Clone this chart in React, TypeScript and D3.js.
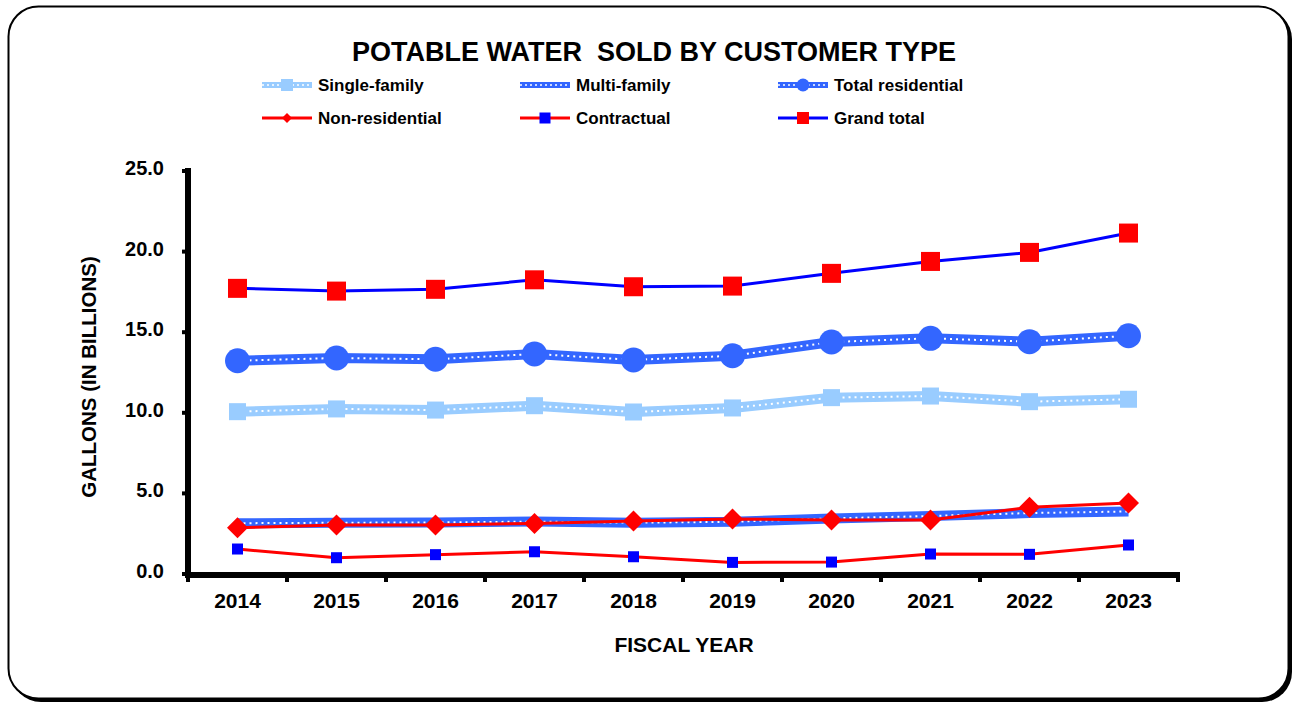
import React, { useEffect, useRef } from "react";
import * as d3 from "d3";

const years = ["2014", "2015", "2016", "2017", "2018", "2019", "2020", "2021", "2022", "2023"];
const singleFamily = [10.07, 10.24, 10.17, 10.44, 10.05, 10.3, 10.94, 11.04, 10.69, 10.84];
const multiFamily = [3.15, 3.18, 3.2, 3.25, 3.18, 3.24, 3.45, 3.6, 3.78, 3.88];
const totalResidential = [13.23, 13.4, 13.32, 13.65, 13.28, 13.54, 14.39, 14.62, 14.41, 14.78];
const nonResidential = [2.87, 3.04, 3.04, 3.14, 3.29, 3.41, 3.35, 3.35, 4.14, 4.4];
const contractual = [1.55, 1.01, 1.2, 1.38, 1.07, 0.72, 0.74, 1.24, 1.22, 1.8];
const grandTotal = [17.72, 17.55, 17.66, 18.25, 17.82, 17.86, 18.65, 19.39, 19.95, 21.15];
const yTicks = [0, 5, 10, 15, 20, 25];

const FONT = "'Liberation Sans', Arial, sans-serif";

type Series = {
  name: string;
  values: number[];
  line: string;
  width: number;
  dotted: boolean;
  marker: "none" | "square" | "circle" | "diamond";
  markerColor: string;
  size: number;
  legendSize: number;
};

const series: Series[] = [
  { name: "Single-family", values: singleFamily, line: "#99CCFF", width: 10, dotted: true, marker: "square", markerColor: "#99CCFF", size: 17, legendSize: 12 },
  { name: "Multi-family", values: multiFamily, line: "#3366FF", width: 10, dotted: true, marker: "none", markerColor: "#3366FF", size: 0, legendSize: 0 },
  { name: "Total residential", values: totalResidential, line: "#3366FF", width: 10, dotted: true, marker: "circle", markerColor: "#3366FF", size: 25, legendSize: 13 },
  { name: "Non-residential", values: nonResidential, line: "#FF0000", width: 3, dotted: false, marker: "diamond", markerColor: "#FF0000", size: 21, legendSize: 10 },
  { name: "Contractual", values: contractual, line: "#FF0000", width: 3, dotted: false, marker: "square", markerColor: "#0000FF", size: 11, legendSize: 11 },
  { name: "Grand total", values: grandTotal, line: "#0000FF", width: 3, dotted: false, marker: "square", markerColor: "#FF0000", size: 19, legendSize: 12 },
];

function drawMarker(g: any, s: Series, x: number, y: number, size: number) {
  if (s.marker === "square") {
    g.append("rect")
      .attr("x", x - size / 2)
      .attr("y", y - size / 2)
      .attr("width", size)
      .attr("height", size)
      .attr("fill", s.markerColor);
  } else if (s.marker === "circle") {
    g.append("circle").attr("cx", x).attr("cy", y).attr("r", size / 2).attr("fill", s.markerColor);
  } else if (s.marker === "diamond") {
    const h = size / 2;
    g.append("path")
      .attr("d", `M${x},${y - h}L${x + h},${y}L${x},${y + h}L${x - h},${y}Z`)
      .attr("fill", s.markerColor);
  }
}

const App = () => {
  const svgRef = useRef<SVGSVGElement>(null);

  useEffect(() => {
    const width = 1296;
    const height = 704;
    const svg = d3.select(svgRef.current).attr("width", width).attr("height", height);
    svg.selectAll("*").remove();

    // frame with shadow
    svg.append("rect")
      .attr("x", 11).attr("y", 9).attr("width", 1281).attr("height", 693)
      .attr("rx", 30).attr("fill", "#000");
    svg.append("rect")
      .attr("x", 8.5).attr("y", 6.5).attr("width", 1280).attr("height", 692)
      .attr("rx", 30).attr("fill", "#fff").attr("stroke", "#000").attr("stroke-width", 2);

    const left = 188;
    const right = 1178;
    const x = d3.scaleBand().domain(years).range([left, right]);
    const y = d3.scaleLinear().domain([0, 25]).range([574, 171]);
    const cx = (i: number) => (x(years[i]) as number) + x.bandwidth() / 2;

    svg.append("text")
      .attr("x", 654).attr("y", 61)
      .attr("text-anchor", "middle")
      .attr("font-family", FONT).attr("font-weight", "bold").attr("font-size", 27)
      .attr("xml:space", "preserve")
      .text("POTABLE WATER  SOLD BY CUSTOMER TYPE");

    // legend
    const legendX = [262, 520, 778];
    const legendY = [85, 118];
    series.forEach((s, i) => {
      const lx = legendX[i % 3];
      const ly = legendY[Math.floor(i / 3)];
      const g = svg.append("g");
      g.append("line")
        .attr("x1", lx).attr("x2", lx + 50).attr("y1", ly).attr("y2", ly)
        .attr("stroke", s.line).attr("stroke-width", s.dotted ? 6 : 3);
      if (s.dotted) {
        g.append("line")
          .attr("x1", lx).attr("x2", lx + 50).attr("y1", ly).attr("y2", ly)
          .attr("stroke", "#fff").attr("stroke-width", 1.5).attr("stroke-dasharray", "2 3");
      }
      drawMarker(g, s, lx + 25, ly, s.legendSize);
      g.append("text")
        .attr("x", lx + 56).attr("y", ly + 6)
        .attr("font-family", FONT).attr("font-weight", "bold").attr("font-size", 17)
        .text(s.name);
    });

    // axes
    const axis = svg.append("g");
    axis.append("line")
      .attr("x1", left).attr("x2", left).attr("y1", 168).attr("y2", 578)
      .attr("stroke", "#000").attr("stroke-width", 6);
    axis.append("line")
      .attr("x1", left - 3).attr("x2", right + 2).attr("y1", 575).attr("y2", 575)
      .attr("stroke", "#000").attr("stroke-width", 6);
    yTicks.forEach((t) => {
      axis.append("line")
        .attr("x1", left - 6).attr("x2", left).attr("y1", y(t)).attr("y2", y(t))
        .attr("stroke", "#000").attr("stroke-width", 4);
      axis.append("text")
        .attr("x", 164).attr("y", y(t) + 4)
        .attr("text-anchor", "end")
        .attr("font-family", FONT).attr("font-weight", "bold").attr("font-size", 20)
        .text(t.toFixed(1));
    });
    const bounds = years.map((yr) => x(yr) as number).concat([right]);
    bounds.forEach((b) => {
      axis.append("line")
        .attr("x1", b).attr("x2", b).attr("y1", 575).attr("y2", 582)
        .attr("stroke", "#000").attr("stroke-width", 4);
    });
    years.forEach((yr, i) => {
      axis.append("text")
        .attr("x", cx(i)).attr("y", 608)
        .attr("text-anchor", "middle")
        .attr("font-family", FONT).attr("font-weight", "bold").attr("font-size", 21)
        .text(yr);
    });
    axis.append("text")
      .attr("x", 684).attr("y", 652)
      .attr("text-anchor", "middle")
      .attr("font-family", FONT).attr("font-weight", "bold").attr("font-size", 21)
      .text("FISCAL YEAR");
    axis.append("text")
      .attr("transform", `translate(96,377) rotate(-90)`)
      .attr("text-anchor", "middle")
      .attr("font-family", FONT).attr("font-weight", "bold").attr("font-size", 20.5)
      .text("GALLONS (IN BILLIONS)");

    // series
    const line = d3.line<number>().x((d, i) => cx(i)).y((d) => y(d));
    series.forEach((s) => {
      const g = svg.append("g");
      g.append("path")
        .datum(s.values)
        .attr("fill", "none").attr("stroke", s.line).attr("stroke-width", s.width)
        .attr("stroke-linejoin", "round")
        .attr("d", line);
      if (s.dotted) {
        g.append("path")
          .datum(s.values)
          .attr("fill", "none").attr("stroke", "#fff").attr("stroke-width", 2)
          .attr("stroke-dasharray", "2 4")
          .attr("d", line);
      }
      s.values.forEach((v, i) => drawMarker(g, s, cx(i), y(v), s.size));
    });
  }, []);

  return (
    <svg
      ref={svgRef}
      style={{ position: "absolute", left: 0, top: 0, display: "block" }}
    ></svg>
  );
};

export default App;
